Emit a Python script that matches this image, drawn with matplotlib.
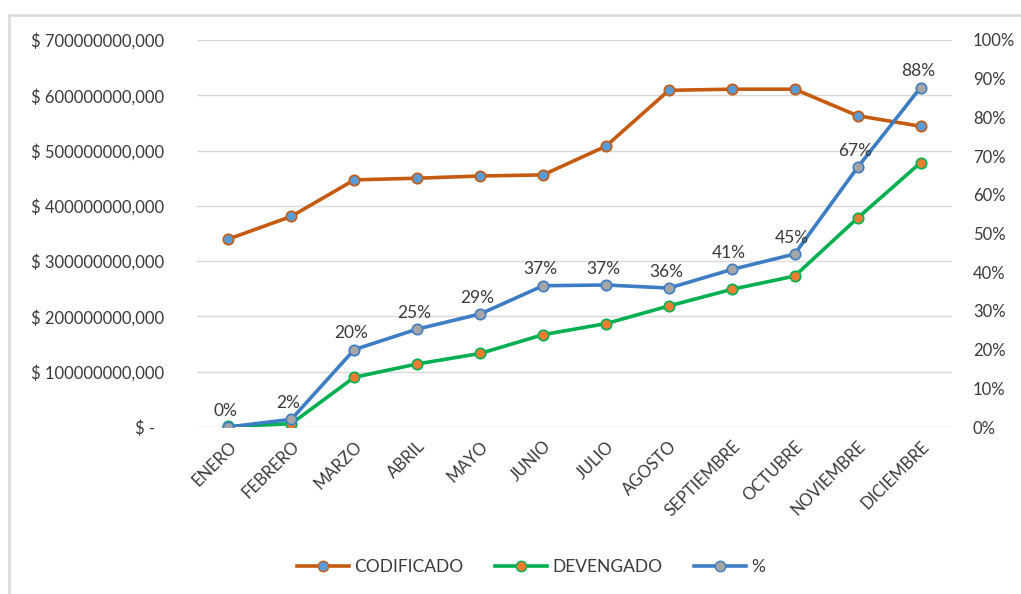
import matplotlib.pyplot as plt
from matplotlib.patches import Rectangle
from matplotlib.ticker import FuncFormatter, MultipleLocator
from matplotlib.lines import Line2D

meses = ['ENERO', 'FEBRERO', 'MARZO', 'ABRIL', 'MAYO', 'JUNIO', 'JULIO',
         'AGOSTO', 'SEPTIEMBRE', 'OCTUBRE', 'NOVIEMBRE', 'DICIEMBRE']
codificado = [340e6, 381e6, 447e6, 450e6, 454e6, 456e6, 508e6,
              609e6, 611e6, 611e6, 563e6, 544e6]
devengado = [1e6, 6e6, 90e6, 114e6, 133e6, 167e6, 187e6,
             219e6, 249e6, 273e6, 378e6, 478e6]
porcentaje = [0.00, 0.02, 0.20, 0.253, 0.292, 0.365, 0.367,
              0.359, 0.407, 0.447, 0.671, 0.877]
etiquetas = ['0%', '2%', '20%', '25%', '29%', '37%', '37%',
             '36%', '41%', '45%', '67%', '88%']

plt.rcParams['font.family'] = ['Lato', 'DejaVu Sans']
txt = '#3A3A3A'

fig = plt.figure(figsize=(10.21, 5.94), dpi=100)
fig.patches.append(Rectangle((9 / 1021, -0.1), 1.2, 1 - 15 / 594 + 0.1,
                             transform=fig.transFigure, fill=False,
                             edgecolor='#D9D9D9', linewidth=1.8))

ax = fig.add_axes([197 / 1021, 1 - 427 / 594, 755 / 1021, 387 / 594])
ax2 = ax.twinx()

x = range(len(meses))
ax.plot(x, codificado, color='#C55A11', lw=2.6, marker='o', ms=7.5,
        mfc='#5B9BD5', mec='#C55A11', mew=1.2, label='CODIFICADO', zorder=3)
ax.plot(x, devengado, color='#00B050', lw=2.6, marker='o', ms=7.5,
        mfc='#ED7D31', mec='#00B050', mew=1.2, label='DEVENGADO', zorder=3)
ax2.plot(x, porcentaje, color='#3D7DC4', lw=2.6, marker='o', ms=7.5,
         mfc='#A5A5A5', mec='#3D7DC4', mew=1.2, label='%', zorder=3)

for i, (p, t) in enumerate(zip(porcentaje, etiquetas)):
    ax2.annotate(t, (i, p), xytext=(-2, 6), textcoords='offset points',
                 ha='center', va='bottom', fontsize=12.5, color=txt)

ax.set_xlim(-0.5, len(meses) - 0.5)
ax.set_ylim(0, 700e6)
ax2.set_ylim(0, 1)
ax.yaxis.set_major_locator(MultipleLocator(100e6))
ax2.yaxis.set_major_locator(MultipleLocator(0.1))


def fmt_pesos(v, pos):
    if v == 0:
        return '$ -  '
    return '$ {:.0f},000'.format(v)


ax.yaxis.set_major_formatter(FuncFormatter(fmt_pesos))
ax2.yaxis.set_major_formatter(FuncFormatter(lambda v, p: '{:.0f}%'.format(v * 100)))

ax.set_xticks(list(x))
ax.set_xticklabels(meses, rotation=45, ha='right', rotation_mode='anchor')

ax.grid(axis='y', color='#D9D9D9', lw=1)
ax.set_axisbelow(True)
for a in (ax, ax2):
    for s in a.spines.values():
        s.set_visible(False)
    a.tick_params(length=0, labelsize=12, colors=txt)
ax.tick_params(axis='y', pad=24)
ax2.tick_params(axis='y', pad=15)
ax.tick_params(axis='x', pad=8)

handles = [
    Line2D([], [], color='#C55A11', lw=2.6, marker='o', ms=7.5, mfc='#5B9BD5', mec='#C55A11'),
    Line2D([], [], color='#00B050', lw=2.6, marker='o', ms=7.5, mfc='#ED7D31', mec='#00B050'),
    Line2D([], [], color='#3D7DC4', lw=2.6, marker='o', ms=7.5, mfc='#A5A5A5', mec='#3D7DC4'),
]
fig.legend(handles, ['CODIFICADO', 'DEVENGADO', '%'], loc='center',
           bbox_to_anchor=(0.52, 1 - 567 / 594), ncol=3, frameon=False,
           fontsize=12.5, labelcolor=txt, handlelength=3.0, handletextpad=0.3,
           columnspacing=1.8)

fig.savefig('out.png', dpi=100)
